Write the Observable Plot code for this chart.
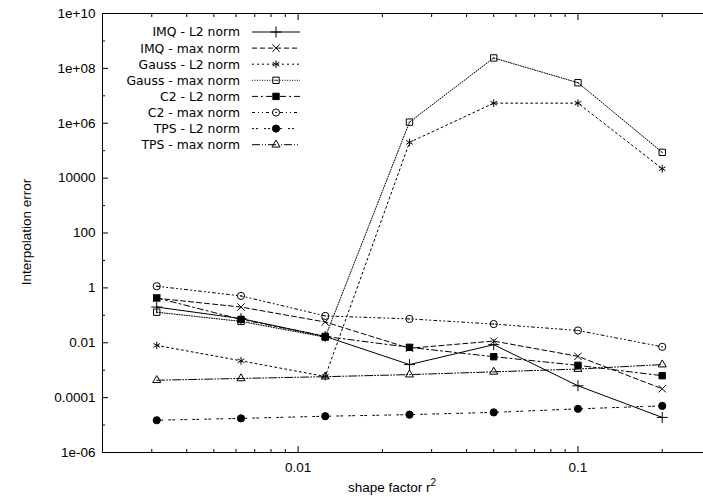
<!DOCTYPE html>
<html><head><meta charset="utf-8">
<script src="https://cdn.jsdelivr.net/npm/d3@7"></script>
<script src="https://cdn.jsdelivr.net/npm/@observablehq/plot@0.6"></script>
<style>body{margin:0;background:#fff;} #chart svg{display:block;}</style>
</head><body><div id="chart"></div>
<script>
// ---- data ----
const shapeFactor = [0.003125, 0.00625, 0.0125, 0.025, 0.05, 0.1, 0.2];
const seriesNames = ["IMQ - L2 norm", "IMQ - max norm", "Gauss - L2 norm", "Gauss - max norm",
                     "C2 - L2 norm", "C2 - max norm", "TPS - L2 norm", "TPS - max norm"];
const imqL2    = [0.2, 0.076, 0.017, 0.0016, 0.0085, 0.00027, 0.000019];
const imqMax   = [0.42, 0.2, 0.057, 0.0063, 0.0115, 0.0032, 0.00021];
const gaussL2  = [0.008, 0.0022, 0.00059, 2.0e5, 5.4e6, 5.4e6, 2.2e4];
const gaussMax = [0.13, 0.06, 0.016, 1.1e6, 2.4e8, 3.0e7, 8.7e4];
const c2L2     = [0.43, 0.071, 0.017, 0.0068, 0.0031, 0.0015, 0.00063];
const c2Max    = [1.15, 0.51, 0.095, 0.074, 0.048, 0.028, 0.0071];
const tpsL2    = [1.5e-5, 1.75e-5, 2.1e-5, 2.4e-5, 2.9e-5, 3.9e-5, 5.0e-5];
const tpsMax   = [0.00043, 0.0005, 0.00058, 0.00069, 0.00087, 0.0011, 0.0016];
const seriesValues = [imqL2, imqMax, gaussL2, gaussMax, c2L2, c2Max, tpsL2, tpsMax];

const yLabelValues = [1e-6, 1e-4, 1e-2, 1, 1e2, 1e4, 1e6, 1e8, 1e10];
const yLabelTexts  = ["1e-06", "0.0001", "0.01", "1", "100", "10000", "1e+06", "1e+08", "1e+10"];
const yMinorValues = [1e-5, 1e-3, 1e-1, 10, 1e3, 1e5, 1e7, 1e9];
const xLabelValues = [0.01, 0.1];
const xLabelTexts  = ["0.01", "0.1"];
const xMinorValues = [0.003, 0.004, 0.005, 0.006, 0.007, 0.008, 0.009,
                      0.02, 0.03, 0.04, 0.05, 0.06, 0.07, 0.08, 0.09, 0.2];
const xTitle = "shape factor r";
const xTitleSup = "2";
const yTitle = "Interpolation error";

// ---- styles ----
const dashes = [null, "5,3", "2,3", "1,1.5", "6,3,2,3", "3,3,1,3,1,3", "2,2,2,6", "8,2,1,2,1,2"];
const symbols = [d3.symbolPlus, d3.symbolTimes, d3.symbolAsterisk, d3.symbolSquare,
                 d3.symbolSquare, d3.symbolCircle, d3.symbolCircle, d3.symbolTriangle];
const filled = [false, false, false, false, true, false, true, false];
const centerDot = [false, false, false, true, false, true, false, false];
const radii = [3.6, 3.4, 3.6, 3.6, 3.6, 3.6, 3.6, 3.0];

const yMap = new Map(yLabelValues.map((v, i) => [v, yLabelTexts[i]]));
const xMap = new Map(xLabelValues.map((v, i) => [v, xLabelTexts[i]]));

const seriesMarks = seriesValues.flatMap((vals, i) => {
  const m = [
    Plot.line(shapeFactor, {x: d => d, y: (d, j) => vals[j], stroke: "#000", strokeWidth: 1,
      strokeDasharray: dashes[i]}),
    Plot.dot(shapeFactor, {x: d => d, y: (d, j) => vals[j], symbol: symbols[i], r: radii[i],
      fill: filled[i] ? "#000" : "none", stroke: "#000", strokeWidth: 1})
  ];
  if (centerDot[i]) m.push(Plot.dot(shapeFactor, {x: d => d, y: (d, j) => vals[j], r: 0.7, fill: "#000", stroke: "none"}));
  return m;
});

const chart = Plot.plot({
  width: 703, height: 497,
  marginLeft: 102, marginRight: -8, marginTop: 13, marginBottom: 45,
  x: {type: "log", domain: [0.002, 0.3]},
  y: {type: "log", domain: [1e-6, 1e10]},
  style: {fontFamily: "'Liberation Sans', Arial, sans-serif", fontSize: "13.5px", color: "#000", background: "#fff"},
  marks: [
    Plot.axisY({ticks: yLabelValues, anchor: "left", tickSize: -6, fill: "none", label: null}),
    Plot.axisY({ticks: yMinorValues, anchor: "left", tickSize: -3, fill: "none", label: null}),
    Plot.axisY({ticks: yLabelValues, anchor: "left", tickSize: 0, tickPadding: 7, stroke: "none",
      tickFormat: d => yMap.get(d), label: null}),
    Plot.axisX({ticks: xLabelValues, anchor: "bottom", tickSize: -6, fill: "none", label: null}),
    Plot.axisX({ticks: xMinorValues, anchor: "bottom", tickSize: -3, fill: "none", label: null}),
    Plot.axisX({ticks: xLabelValues, anchor: "top", tickSize: -6, fill: "none", label: null}),
    Plot.axisX({ticks: xMinorValues, anchor: "top", tickSize: -3, fill: "none", label: null}),
    Plot.axisX({ticks: xLabelValues, anchor: "bottom", tickSize: 0, tickPadding: 10, stroke: "none",
      tickFormat: d => xMap.get(d), label: null}),
    ...seriesMarks,
    Plot.frame({stroke: "#000", strokeWidth: 1})
  ]
});
document.getElementById("chart").append(chart);

// ---- titles and legend ----
const svg = d3.select(chart);
const xt = svg.append("text").attr("x", 392).attr("y", 492).attr("text-anchor", "middle")
  .style("font-family", "'Liberation Sans', Arial, sans-serif").style("font-size", "13.5px").attr("fill", "#000")
  .text(xTitle);
xt.append("tspan").attr("dy", "-6").style("font-size", "10px").text(xTitleSup);
svg.append("text").attr("transform", "translate(31,232) rotate(-90)").attr("text-anchor", "middle")
  .style("font-family", "'Liberation Sans', Arial, sans-serif").style("font-size", "13.5px").attr("fill", "#000")
  .text(yTitle);

const lg = svg.append("g");
seriesNames.forEach((name, i) => {
  const y = 32 + 16.1 * i;
  lg.append("text").attr("x", 240).attr("y", y).attr("dy", "0.36em").attr("text-anchor", "end")
    .style("font-family", "'DejaVu Sans', sans-serif").style("font-size", "12.4px").attr("fill", "#000").text(name);
  const ln = lg.append("line").attr("x1", 252).attr("x2", 300).attr("y1", y).attr("y2", y)
    .attr("stroke", "#000").attr("stroke-width", 1);
  if (dashes[i]) ln.attr("stroke-dasharray", dashes[i]);
  lg.append("path").attr("transform", `translate(276,${y})`)
    .attr("d", d3.symbol(symbols[i], Math.PI * radii[i] * radii[i])())
    .attr("fill", filled[i] ? "#000" : "none").attr("stroke", "#000").attr("stroke-width", 1);
  if (centerDot[i]) lg.append("circle").attr("cx", 276).attr("cy", y).attr("r", 0.7).attr("fill", "#000");
});
</script>
</body></html>
